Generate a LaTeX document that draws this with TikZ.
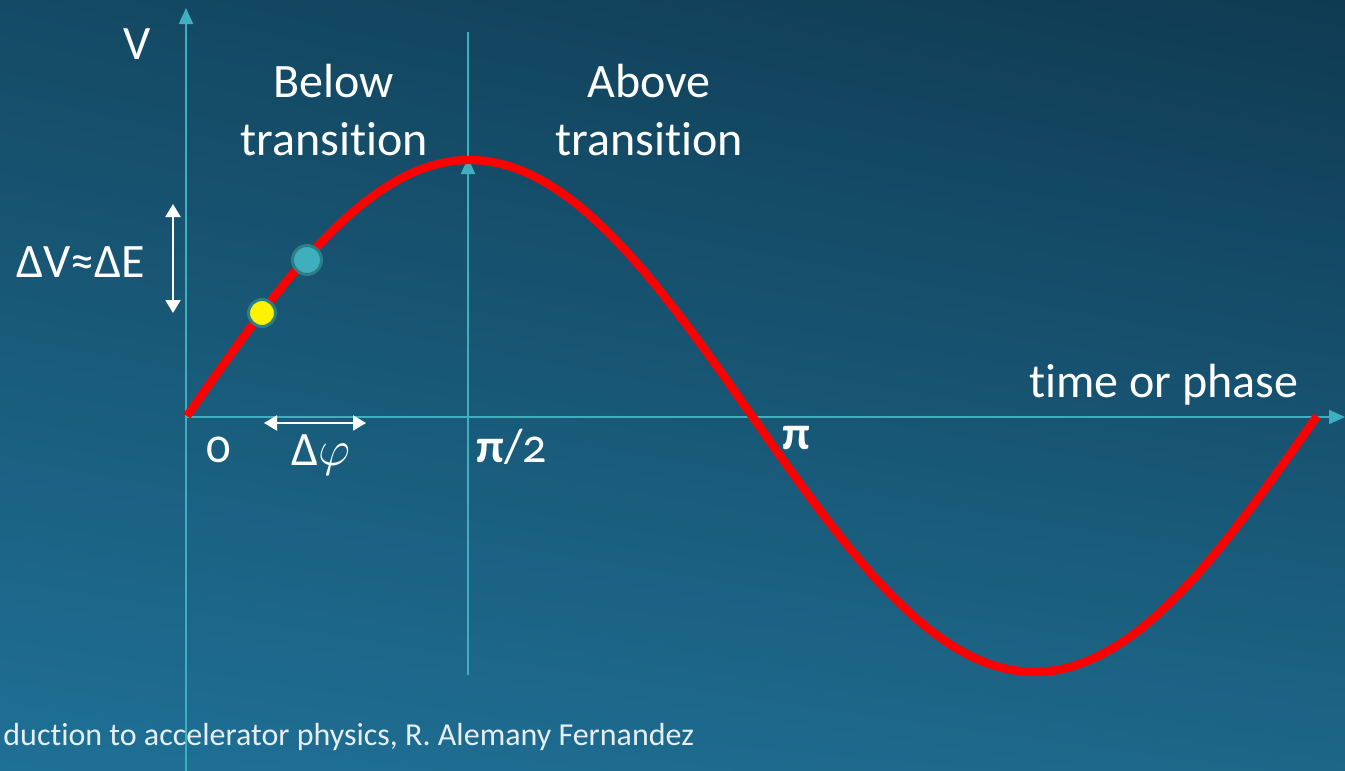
\documentclass[tikz,border=0pt]{standalone}
\usepackage{fontspec}
\setmainfont{Carlito}[Ligatures=NoCommon]
\newfontfamily\oldnum{Carlito}[Numbers=OldStyle]
\usetikzlibrary{arrows.meta,shadings}
\definecolor{bgUL}{HTML}{144A64}
\definecolor{bgUR}{HTML}{0F3A52}
\definecolor{bgLL}{HTML}{1F7096}
\definecolor{bgLR}{HTML}{1D6688}
\definecolor{axiscol}{HTML}{3FAFC0}
\definecolor{dotteal}{HTML}{3FAFBD}
\definecolor{dotedge}{HTML}{2A7F88}
\definecolor{footcol}{HTML}{E6EEF2}
\tikzset{
  axisline/.style={draw=axiscol, line width=1pt},
  axisarrow/.style={draw=axiscol, fill=axiscol, line width=1pt, -{Triangle[length=8pt,width=7pt]}},
  whitearrow/.style={draw=white, line width=1pt, {Triangle[length=6.5pt,width=7.5pt]}-{Triangle[length=6.5pt,width=7.5pt]}},
  wave/.style={draw=red, line width=4.2pt},
  lbl/.style={text=white, font=\fontsize{24}{29}\selectfont, inner sep=0pt},
  dot/.style={circle, draw=dotedge, line width=1.5pt, minimum size=13.5pt, inner sep=0pt},
}
\begin{document}
\begin{tikzpicture}[x=0.5pt,y=-0.5pt]
\useasboundingbox (0,0) rectangle (1345,771);
\shade[upper left=bgUL, upper right=bgUR, lower left=bgLL, lower right=bgLR] (0,0) rectangle (1345,771);
% axes
\coordinate (yb) at (186,771);
\coordinate (yt) at (186,8);
\coordinate (xl) at (186,417);
\coordinate (xr) at (1345,417);
\coordinate (pt) at (468,32);
\coordinate (pb) at (468,675);
\coordinate (pk) at (468,158);
\draw[axisarrow] (yb) -- (yt);
\draw[axisarrow] (xl) -- (xr);
\draw[axisline] (pt) -- (pb);
\draw[axisarrow] (pb) -- (pk);
% wave
\draw[wave] plot[domain=0:360, samples=120, smooth] ({187+\x/360*1130},{416-256*sin(\x)});
% dots
\node[dot, fill=yellow] (yd) at (262,313) {};
\node[dot, fill=dotteal, minimum size=14.5pt] (td) at (307,260) {};
% white arrows
\coordinate (dvt) at (173,204);
\coordinate (dvb) at (173,313);
\draw[whitearrow] (dvt) -- (dvb);
\coordinate (dpl) at (264,423);
\coordinate (dpr) at (366,423);
\draw[whitearrow] (dpl) -- (dpr);
% labels
\node[lbl, anchor=base] (V) at (137,60) {V};
\node[lbl, anchor=base, align=center] (below) at (334,155) {Below\\transition};
\node[lbl, anchor=base, align=center] (above) at (649,155) {Above\\transition};
\node[lbl, anchor=base] (dv) at (81,277) {ΔV≈ΔE};
\node[lbl, anchor=base] (zero) at (219,462) {\oldnum 0};
\node[lbl, anchor=base] (dphi) at (321,465) {Δ$\varphi$};
\node[lbl, anchor=base] (pihalf) at (512,462) {\textbf{π}/{\oldnum 2}};
\node[lbl, anchor=base] (pi) at (796,449) {\textbf{π}};
\node[lbl, anchor=base] (tp) at (1164,397) {time or phase};
\node[text=footcol, font=\fontsize{16}{19}\selectfont, inner sep=0pt, anchor=base west] (foot) at (3,745) {duction to accelerator physics, R. Alemany Fernandez};
\end{tikzpicture}
\end{document}
